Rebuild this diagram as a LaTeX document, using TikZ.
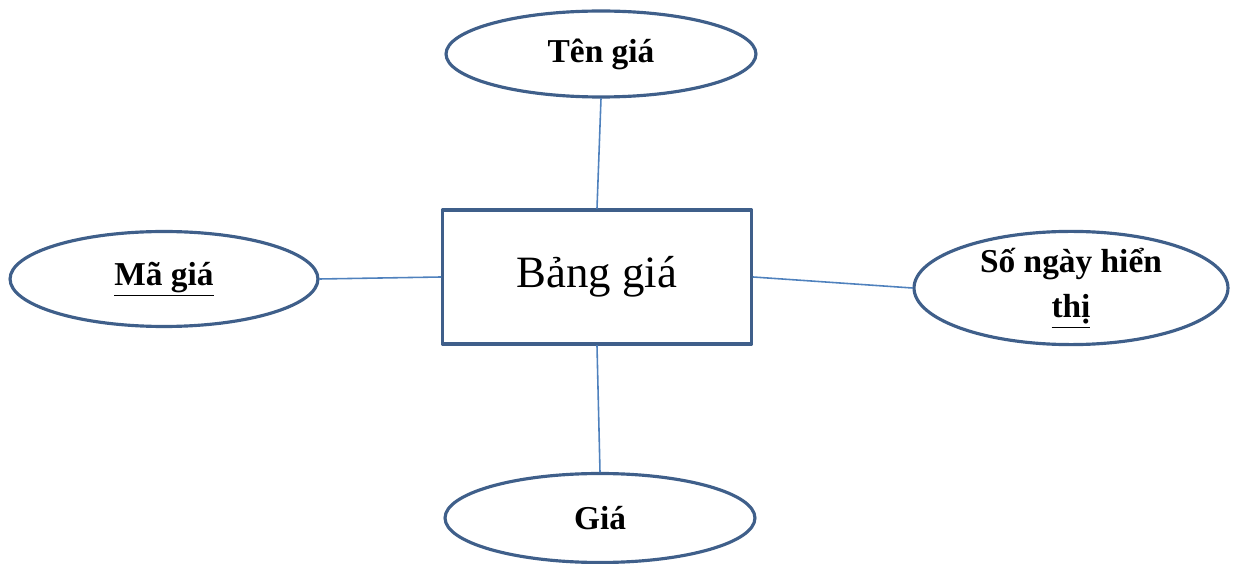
\documentclass[tikz,border=0pt]{standalone}
\usepackage{fontspec}
\setmainfont{Liberation Serif}
\usetikzlibrary{shapes.geometric}

\definecolor{edgeblue}{HTML}{3F5F8A}
\definecolor{linkblue}{HTML}{4F81BD}

\begin{document}
\begin{tikzpicture}[x=0.02cm,y=-0.02cm,line cap=round,line join=round,
  entity/.style={draw=edgeblue,line width=2pt,rectangle,minimum width=6.18cm,
    minimum height=2.68cm,inner sep=0pt,font=\fontsize{25.5}{29}\selectfont},
  attr/.style={draw=edgeblue,line width=1.8pt,ellipse,minimum width=6.2cm,
    minimum height=1.72cm,inner sep=0pt,align=center,
    font=\fontsize{19}{21}\bfseries\selectfont},
  link/.style={draw=linkblue,line width=0.9pt}]
  \useasboundingbox (0,0) rectangle (1235,564);
  \node[entity] (bang) at (597,277) {Bảng giá};
  \node[attr] (ten) at (601,54) {Tên giá};
  \node[attr,minimum width=6.16cm,minimum height=1.9cm] (ma) at (164,279) {\underline{Mã giá}};
  \node[attr,minimum width=6.28cm,minimum height=1.9cm] (songay) at (1071,288) {Số ngày hiển\\[5pt]\underline{thị}};
  \node[attr,minimum height=1.78cm] (gia) at (600,518) {Giá};
  \draw[link] (bang.north) -- (ten.south);
  \draw[link] (bang.south) -- (gia.north);
  \draw[link] (bang.west) -- (ma.east);
  \draw[link] (bang.east) -- (songay.west);
\end{tikzpicture}
\end{document}
